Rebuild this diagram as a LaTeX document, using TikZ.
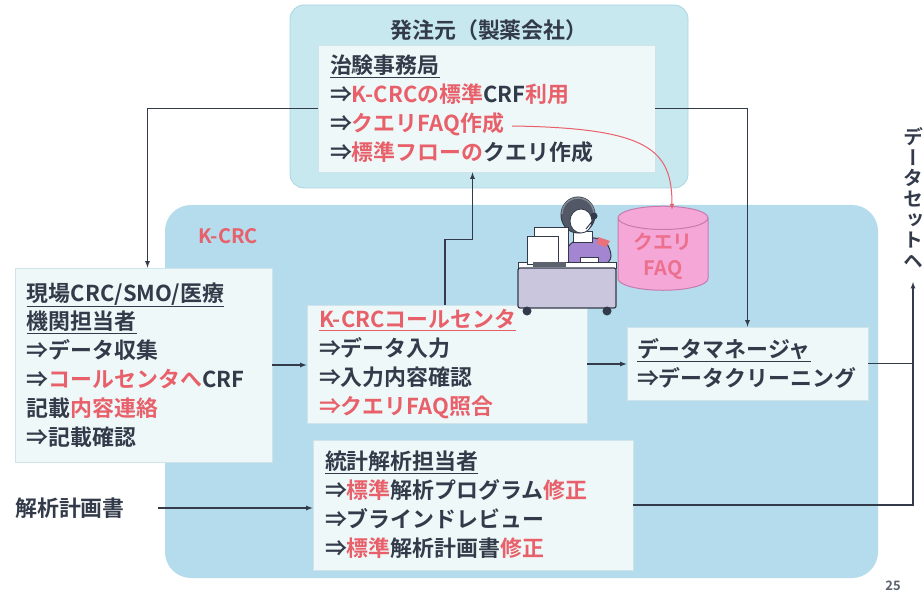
\documentclass[tikz,border=0pt]{standalone}
\usepackage{fontspec}
\setmainfont{Noto Sans CJK JP}[BoldFont={Noto Sans CJK JP Bold}]
\newfontfamily\vertfont{Noto Sans CJK JP Bold}[RawFeature=+vert]
\usetikzlibrary{positioning}
\usetikzlibrary{arrows}
\usetikzlibrary{calc}
\usetikzlibrary{shapes.geometric}

\definecolor{ink}{HTML}{333B4A}
\definecolor{kred}{HTML}{E8606A}
\definecolor{sponsorblue}{HTML}{C8E8F0}
\definecolor{sponsorline}{HTML}{A9D6E3}
\definecolor{kcrcblue}{HTML}{B4DCEC}
\definecolor{boxwhite}{HTML}{EFF8F9}
\definecolor{boxline}{HTML}{CFE4EA}
\definecolor{faqpink}{HTML}{F5A8D8}
\definecolor{faqline}{HTML}{C77AAE}
\definecolor{faqtext}{HTML}{EC6F8E}
\definecolor{desk}{HTML}{C9C6DE}
\definecolor{sweater}{HTML}{A385D2}

\newcommand{\hl}[1]{\textcolor{kred}{#1}}

\tikzset{
  textbox/.style={draw=boxline, fill=boxwhite, line width=0.8bp, align=left,
    inner xsep=12bp, inner ysep=0bp, text=ink,
    font=\bfseries\fontsize{22}{29}\selectfont},
  plain/.style={text=ink, font=\bfseries\fontsize{22}{29}\selectfont},
  flow/.style={draw=ink, line width=1.2bp, -latex},
  link/.style={draw=ink, line width=1.2bp},
}

\begin{document}
\begin{tikzpicture}[x=1bp, y=-1bp]
	\useasboundingbox (0,0) rectangle (924,598);
	\fill[white] (0,0) rectangle (924,598);

	% Regions
	\draw[fill=sponsorblue, draw=sponsorline, line width=0.8bp, rounded corners=14bp] (290,5) rectangle (688,188);
	\draw[fill=kcrcblue, draw=none, rounded corners=26bp] (165,205) rectangle (878,578);
	\node[plain] (sponsor) at (489,30) {発注元（製薬会社）};
	\node[plain, text=kred, font=\bfseries\fontsize{20}{24}\selectfont] (kcrc) at (228,236) {K-CRC};

	% Define the boxes
	\node[textbox, minimum height=127bp, text width=313bp] (office) at (486.5,108.5)
		{\underline{治験事務局}\\
		 ⇒\hl{K-CRCの標準}CRF\hl{利用}\\
		 ⇒\hl{クエリFAQ作成}\\
		 ⇒\hl{標準フローの}クエリ作成};
	\node[textbox, minimum height=194bp, text width=233bp] (site) at (143.5,365)
		{\underline{現場CRC/SMO/医療}\\
		 \underline{機関担当者}\\
		 ⇒データ収集\\
		 ⇒\hl{コールセンタへ}CRF\\
		 記載\hl{内容連絡}\\
		 ⇒記載確認};
	\node[textbox, minimum height=118bp, text width=256bp] (callc) at (447,364)
		{\hl{\underline{K-CRCコールセンタ}}\\
		 ⇒データ入力\\
		 ⇒入力内容確認\\
		 \hl{⇒クエリFAQ照合}};
	\node[textbox, minimum height=73bp, text width=221bp, inner xsep=10bp] (dm) at (747.5,363.5)
		{\underline{データマネージャ}\\
		 ⇒データクリーニング};
	\node[textbox, minimum height=130bp, text width=296bp] (stats) at (473,505)
		{\underline{統計解析担当者}\\
		 ⇒\hl{標準}解析プログラム\hl{修正}\\
		 ⇒ブラインドレビュー\\
		 ⇒\hl{標準}解析計画書\hl{修正}};
	\node[plain] (plan) at (70,508) {解析計画書};
	\node[text=ink, align=center, inner sep=0bp, font=\vertfont\fontsize{20}{20.7}\selectfont] (dataset) at (913,198)
		{デ\\ー\\タ\\セ\\ッ\\ト\\ヘ};
	\node[text=ink!80, font=\bfseries\fontsize{13}{13}\selectfont] (pagenum) at (893,586) {25};

	% Query FAQ store
	\node[cylinder, shape border rotate=90, aspect=0.35, draw=faqline, fill=faqpink, line width=1bp,
		minimum width=90bp, minimum height=73bp, align=center, text=faqtext,
		font=\bfseries\fontsize{20}{26}\selectfont] (faq) at (663,256.5) {クエリ\\FAQ};

	% Operator at the desk
	\filldraw[draw=ink, fill=sweater, line width=1bp, rounded corners=8bp] (566,264) -- (566,246) -- (580,238) -- (602,238) -- (611,248) -- (611,264) -- cycle;
	\fill[kred!90] (598,237) -- (610,241) -- (606,247) -- (597,244) -- cycle;
	\filldraw[draw=ink, fill=white, line width=0.8bp] (573,231) rectangle (592,242);
	\filldraw[draw=ink, fill=ink!85, line width=1bp] (578,215) ellipse (17 and 18);
	\filldraw[draw=ink, fill=white, line width=0.8bp] (581,221) ellipse (11 and 12);
	\draw[ink!60, line width=1.5bp] (562,214) arc (180:360:16);
	\fill[ink] (594,216) circle (3.5);
	\draw[ink, line width=1bp] (594,219) -- (586,229);
	\filldraw[draw=ink, fill=white, line width=1bp] (518,262) rectangle (616,268);
	\filldraw[draw=ink, fill=desk, line width=1.2bp, rounded corners=2bp] (518,268) rectangle (616,308);
	\fill[ink] (527,311) circle (4.5) (607,311) circle (4.5);
	\filldraw[draw=ink, fill=white, line width=1bp] (534,228) rectangle (568,262);
	\filldraw[draw=ink, fill=white, line width=1bp] (527,237) rectangle (558,264);
	\fill[ink!80] (533,262) rectangle (566,267);
	\filldraw[draw=ink, fill=white, line width=0.8bp] (580,257) rectangle (598,262);

	% Query FAQ link
	\coordinate (faqsrc) at (512,126);
	\draw[kred, line width=1bp, -latex] (faqsrc) .. controls (650,128) and (672,150) .. ([xshift=9bp, yshift=-4bp]faq.north);

	% Draw the lines
	\coordinate (out) at (913,282);
	\draw[flow] (office.west) -| ([xshift=4bp]site.north);
	\draw[flow] (office.east) -| (dm.north);
	\draw[flow] (site.east) -- (site.east -| callc.west);
	\draw[flow] (callc.east) -- (callc.east -| dm.west);
	\draw[flow] ([xshift=-2bp]callc.north) -- ++(0,-65) -| ([xshift=-14bp]office.south);
	\draw[flow, shorten <=30bp] (plan.east) -- (plan.east -| stats.west);
	\draw[flow] (stats.east) -| (out);
	\draw[link] (dm.east) -- (dm.east -| out);
\end{tikzpicture}
\end{document}
